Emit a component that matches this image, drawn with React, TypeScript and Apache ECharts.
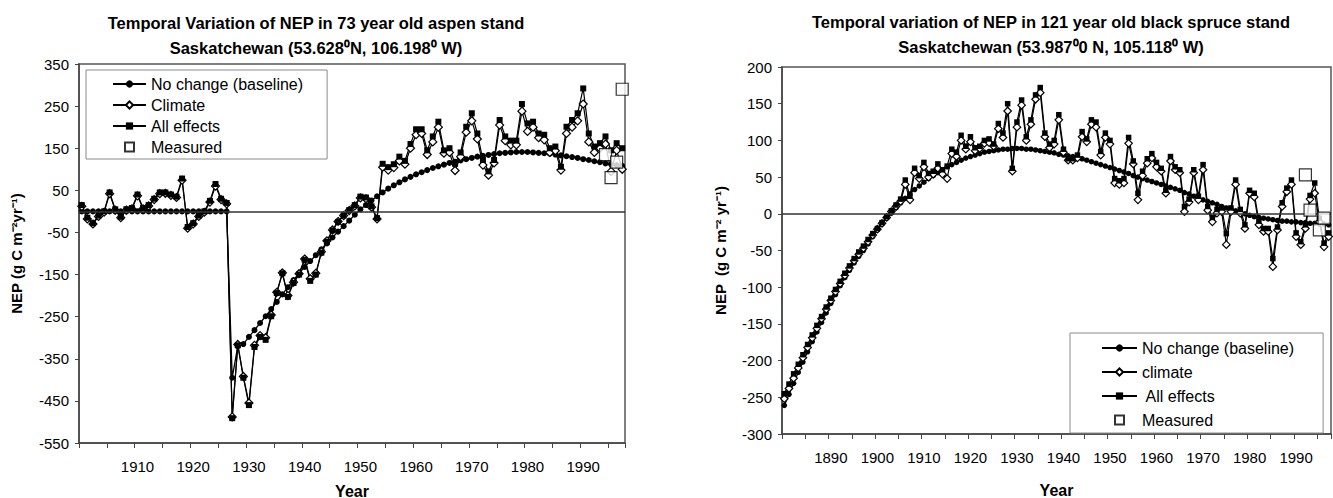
import React, { useEffect, useRef } from "react";
import * as echarts from "echarts";

const FONT = "'Liberation Sans', Arial, Helvetica, sans-serif";

// ---------- Aspen stand (left panel) ----------
const aspenFirstYear = 1900;
const aspenLastYear = 1997;
const aspenYears = Array.from({ length: aspenLastYear - aspenFirstYear + 1 }, (_, i) => String(aspenFirstYear + i));

const aspenBaseline = [
  0, 0, 0, 0, 0, 0, 0, 0, 0, 0,
  0, 0, 0, 0, 0, 0, 0, 0, 0, 0,
  0, 0, 0, 0, 0, 0, 0,
  -395, -320, -315, -298, -282, -265, -249, -232, -215, -197,
  -180, -163, -147, -132, -118, -104, -90, -76, -62, -48,
  -35, -22, -8, 5, 15, 26, 36, 45, 54, 62,
  69, 76, 82, 88, 93, 98, 103, 107, 111, 115,
  118, 121, 124, 127, 130, 132, 134, 136, 138, 139,
  140, 141, 141, 141, 140, 139, 138, 137, 135, 133,
  131, 129, 127, 124, 122, 119, 117, 114, 112, 110, 108,
];

const aspenClimate = [
  12, -18, -30, -12, -2, 42, 3, -15, 3, 6,
  37, 6, 13, 28, 42, 43, 38, 33, 74, -40,
  -30, -12, -2, 22, 60, 28, 18,
  -488, -316, -392, -455, -318, -295, -300, -246, -192, -146,
  -200, -168, -148, -113, -160, -147, -96, -70, -44, -24,
  -10, 2, 13, 32, 30, 10, -18, 105, 98, 104,
  120, 112, 150, 182, 185, 135, 165, 200, 138, 140,
  97, 130, 188, 215, 172, 110, 86, 115, 205, 168,
  158, 158, 238, 190, 200, 175, 170, 140, 144, 98,
  185, 200, 215, 255, 165, 140, 150, 160, 95, 145, 100,
];

const aspenAllEffects = [
  15, -15, -28, -10, 0, 45, 5, -13, 5, 8,
  40, 8, 15, 30, 45, 45, 40, 35, 78, -37,
  -28, -10, 0, 25, 65, 30, 20,
  -491, -318, -395, -460, -322, -298, -305, -249, -194, -147,
  -203, -170, -150, -115, -165, -150, -98, -72, -45, -25,
  -10, 3, 15, 35, 33, 12, -16, 113, 105, 112,
  130, 120, 160, 195, 195, 145, 178, 213, 145, 150,
  113, 140, 201, 233, 185, 122, 95, 122, 217, 178,
  168, 168, 255, 209, 213, 185, 182, 150, 154, 106,
  201, 217, 233, 292, 185, 154, 162, 178, 145, 162, 150,
];

const aspenMeasuredYears = ["1994", "1995", "1996", "1997"];
const aspenMeasured = [135, 80, 117, 290];

// ---------- Black spruce stand (right panel) ----------
const spruceFirstYear = 1880;
const spruceLastYear = 1997;
const spruceYears = Array.from({ length: spruceLastYear - spruceFirstYear + 1 }, (_, i) => String(spruceFirstYear + i));

const spruceBaseline = [
  -261, -246, -231, -216, -202, -188, -174, -161, -148, -135,
  -122, -110, -98, -87, -77, -67, -58, -50, -41, -31,
  -22, -14, -6, 1, 8, 15, 21, 27, 33, 38,
  43, 48, 52, 56, 60, 64, 67, 70, 73, 76,
  78, 80, 82, 84, 85, 86, 87, 88, 88, 89,
  89, 89, 88, 88, 87, 86, 85, 84, 83, 81,
  80, 79, 78, 76, 75, 73, 71, 69, 67, 65,
  63, 61, 59, 57, 55, 52, 50, 48, 46, 44,
  42, 40, 38, 36, 34, 32, 29, 27, 24, 22,
  19, 17, 15, 13, 10, 8, 6, 4, 2, 0,
  -2, -4, -5, -6, -7, -8, -9, -10, -10, -11,
  -11, -12, -12, -13, -13, -14, -14, -15,
];

const spruceClimate = [
  -252, -238, -224, -210, -196, -182, -169, -156, -143, -130,
  -118, -106, -95, -84, -74, -64, -55, -47, -38, -29,
  -21, -13, -5, 3, 10, 17, 40, 19, 56, 48,
  64, 50, 54, 62, 54, 48, 82, 78, 100, 88,
  98, 86, 89, 96, 97, 92, 116, 104, 140, 58,
  118, 148, 100, 122, 156, 165, 105, 90, 95, 128,
  84, 73, 73, 76, 105, 98, 122, 118, 80, 104,
  95, 42, 40, 42, 96, 68, 19, 52, 69, 76,
  64, 58, 28, 72, 60, 56, 3, 16, 56, 19,
  60, 5, -11, 1, 3, -42, 3, 40, 1, -20,
  28, 23, -15, -24, -24, -72, -22, 10, 30, 40,
  -31, -42, -20, 20, 28, -11, -45, -31,
];

const spruceAllEffects = [
  -245, -232, -218, -205, -192, -178, -165, -152, -140, -127,
  -115, -103, -92, -81, -71, -61, -52, -44, -35, -27,
  -20, -12, -4, 4, 12, 20, 46, 24, 62, 52,
  70, 55, 58, 68, 60, 65, 88, 84, 107, 92,
  105, 90, 92, 100, 102, 95, 123, 110, 150, 62,
  125, 155, 105, 128, 162, 172, 110, 95, 100, 135,
  88, 75, 75, 80, 112, 102, 128, 125, 85, 110,
  100, 48, 45, 48, 104, 72, 28, 58, 75, 82,
  70, 62, 32, 78, 64, 60, 10, 20, 60, 24,
  67, 10, -5, 6, 8, -27, 8, 46, 6, -15,
  32, 28, -10, -20, -20, -61, -18, 15, 35, 46,
  -26, -38, -15, 25, 42, -6, -40, -26,
];

const spruceMeasuredYears = ["1992", "1993", "1995", "1996"];
const spruceMeasured = [53, 5, -22, -6];

// ---------- tick labels / texts ----------
const aspenYTicks = { min: -550, max: 350, interval: 100 };
const spruceYTicks = { min: -300, max: 200, interval: 50 };
const aspenTitle = ["Temporal Variation of NEP in 73 year old aspen stand", "Saskatchewan (53.628\u2070N, 106.198\u2070 W)"];
const spruceTitle = ["Temporal variation of NEP in 121 year old black spruce stand", "Saskatchewan (53.987\u20700 N, 105.118\u2070 W)"];
const aspenLegend = ["No change (baseline)", "Climate", "All effects", "Measured"];
const spruceLegend = ["No change (baseline)", "climate", " All effects", "Measured"];

const MEASURED_ICON = "path://M0,0H10V10H0Z";

function pairs(xs: string[], ys: number[]) {
  return xs.map((x, i) => [x, ys[i]]);
}

function xAxisFor(gridIndex: number, years: string[], nameGap: number) {
  return {
    type: "category",
    gridIndex,
    data: years,
    boundaryGap: true,
    name: "Year",
    nameLocation: "middle",
    nameGap,
    nameTextStyle: { fontFamily: FONT, fontSize: 16, fontWeight: "bold", color: "#000" },
    axisLine: { show: true, onZero: false, lineStyle: { color: "#444", width: 1.5 } },
    axisTick: {
      show: true,
      length: 5,
      interval: (index: number) => index % 5 === 0,
      lineStyle: { color: "#444", width: 1 },
    },
    axisLabel: {
      show: true,
      margin: 16,
      fontFamily: FONT,
      fontSize: 15,
      color: "#000",
      interval: (index: number) => index > 0 && index % 10 === 0,
    },
    splitLine: { show: false },
  };
}

function yAxisFor(gridIndex: number, t: { min: number; max: number; interval: number }, name: string, nameGap: number) {
  return {
    type: "value",
    gridIndex,
    min: t.min,
    max: t.max,
    interval: t.interval,
    name,
    nameLocation: "middle",
    nameRotate: 90,
    nameGap,
    nameTextStyle: { fontFamily: FONT, fontSize: 15, fontWeight: "bold", color: "#000" },
    axisLine: { show: true, onZero: false, lineStyle: { color: "#444", width: 1.5 } },
    axisTick: { show: true, length: 4, lineStyle: { color: "#444", width: 1 } },
    axisLabel: { margin: 10, fontFamily: FONT, fontSize: 15, color: "#000" },
    splitLine: { show: false },
  };
}

function seriesFor(idx: number, names: string[], base: number[], clim: number[], all: number[], measured: any[], symbolSize: number) {
  const common = {
    type: "line",
    xAxisIndex: idx,
    yAxisIndex: idx,
    showSymbol: true,
    showAllSymbol: true,
    animation: false,
  };
  return [
    {
      ...common,
      name: names[0],
      data: base,
      symbol: "circle",
      symbolSize: symbolSize,
      itemStyle: { color: "#000", borderColor: "#000", borderWidth: 0 },
      lineStyle: { color: "#000", width: 1.3 },
      markLine: {
        silent: true,
        symbol: ["none", "none"],
        label: { show: false },
        lineStyle: { color: "#333", width: 1.5, type: "solid" },
        data: [{ yAxis: 0 }],
      },
    },
    {
      ...common,
      name: names[1],
      data: clim,
      symbol: "diamond",
      symbolSize: symbolSize + 2,
      itemStyle: { color: "#fff", borderColor: "#000", borderWidth: 1.2 },
      lineStyle: { color: "#000", width: 1.2 },
    },
    {
      ...common,
      name: names[2],
      data: all,
      symbol: "rect",
      symbolSize: symbolSize,
      itemStyle: { color: "#000", borderColor: "#000", borderWidth: 0 },
      lineStyle: { color: "#000", width: 1.2 },
    },
    {
      type: "scatter",
      name: names[3],
      xAxisIndex: idx,
      yAxisIndex: idx,
      data: measured,
      symbol: "rect",
      symbolSize: 12,
      itemStyle: { color: "#fff", borderColor: "#000", borderWidth: 1.2 },
      z: 5,
    },
  ];
}

function legendFor(names: string[], left: number, top: number, padding: number[], itemWidth: number, itemGap: number) {
  return {
    show: true,
    orient: "vertical",
    left,
    top,
    padding,
    itemWidth,
    itemHeight: 9,
    itemGap,
    selectedMode: false,
    backgroundColor: "#fff",
    borderColor: "#8a8a8a",
    borderWidth: 1,
    borderRadius: 0,
    textStyle: { fontFamily: FONT, fontSize: 16, color: "#000" },
    data: names.map((n, i) => (i === 3 ? { name: n, icon: MEASURED_ICON } : { name: n })),
  };
}

function titleText(x: number, y: number, text: string) {
  return {
    type: "text",
    x,
    y,
    silent: true,
    style: {
      text,
      fill: "#000",
      font: `bold 16.5px ${FONT}`,
      textAlign: "center",
      textVerticalAlign: "middle",
    },
  };
}

export default function App() {
  const ref = useRef<HTMLDivElement>(null);

  useEffect(() => {
    document.body.style.margin = "0";
    if (!ref.current) return;
    const chart = echarts.init(ref.current, null, { renderer: "svg" });
    const option: any = {
      animation: false,
      backgroundColor: "#fff",
      grid: [
        { left: 79, top: 64, width: 546, height: 379, show: true, borderColor: "#555", borderWidth: 1.5, backgroundColor: "transparent", containLabel: false, outerBoundsMode: "none" },
        { left: 782, top: 67, width: 549, height: 367, show: true, borderColor: "#555", borderWidth: 1.5, backgroundColor: "transparent", containLabel: false, outerBoundsMode: "none" },
      ],
      xAxis: [xAxisFor(0, aspenYears, 40), xAxisFor(1, spruceYears, 48)],
      yAxis: [
        yAxisFor(0, aspenYTicks, "NEP (g C m\u207B\u00B2yr\u207B\u00B9)", 55),
        yAxisFor(1, spruceYTicks, "NEP  (g C m\u207B\u00B2 yr\u207B\u00B9)", 54),
      ],
      legend: [
        legendFor(aspenLegend, 86, 70, [6, 24, 4, 26], 33, 5),
        legendFor(spruceLegend, 1070, 333, [7, 29, 5, 31], 35, 8),
      ],
      series: [
        ...seriesFor(0, aspenLegend, aspenBaseline, aspenClimate, aspenAllEffects, pairs(aspenMeasuredYears, aspenMeasured), 6),
        ...seriesFor(1, spruceLegend, spruceBaseline, spruceClimate, spruceAllEffects, pairs(spruceMeasuredYears, spruceMeasured), 5.5),
      ],
      graphic: [
        titleText(316, 23, aspenTitle[0]),
        titleText(316, 48, aspenTitle[1]),
        titleText(1051, 22, spruceTitle[0]),
        titleText(1051, 47, spruceTitle[1]),
      ],
    };
    chart.setOption(option);
    return () => chart.dispose();
  }, []);

  return <div ref={ref} style={{ width: 1333, height: 498 }} />;
}
